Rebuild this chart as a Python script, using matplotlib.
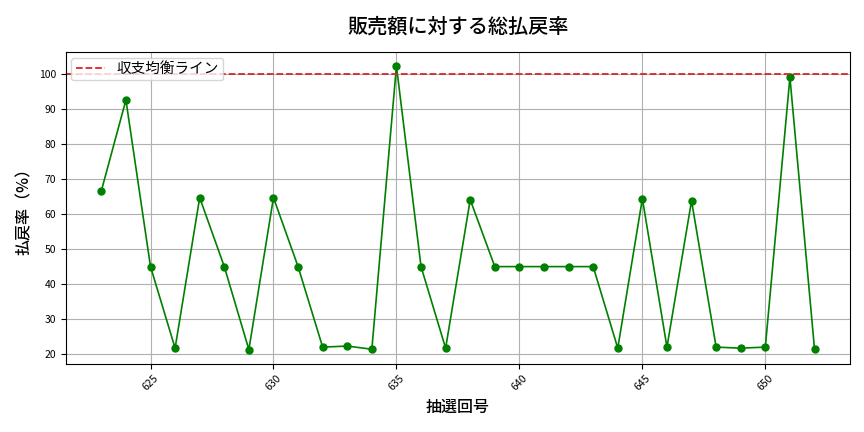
import matplotlib
matplotlib.use("Agg")
import matplotlib.pyplot as plt

plt.rcParams['font.family'] = ['Noto Sans CJK JP', 'DejaVu Sans']

draws = list(range(623, 653))
payout_rate = [66.6, 92.6, 45.0, 21.7, 64.7, 45.0, 21.3, 64.7, 45.0, 22.0,
               22.3, 21.4, 102.3, 45.0, 21.7, 64.1, 45.0, 45.0, 45.0, 45.0,
               45.0, 21.7, 64.4, 22.0, 63.8, 22.0, 21.7, 22.0, 99.1, 21.4]
breakeven = 100

fig, ax = plt.subplots(figsize=(8.64, 4.32), dpi=100)
ax.plot(draws, payout_rate, marker='o', color='green', markersize=5, linewidth=1.2)
ax.axhline(breakeven, color='#d62728', linestyle='--', linewidth=1.3, label='収支均衡ライン')
ax.set_title('販売額に対する総払戻率', fontsize=14.5, pad=14, fontweight='medium')
ax.set_xlabel('抽選回号', fontsize=11.5, fontweight='medium')
ax.set_ylabel('払戻率（%）', fontsize=11.5, fontweight='medium')
ax.grid(True)
ax.tick_params(axis='both', labelsize=7.5)
plt.setp(ax.get_xticklabels(), rotation=45)
ax.legend(loc='upper left', fontsize=10.5, borderaxespad=0.4, handlelength=2.0,
          borderpad=0.3)
fig.tight_layout()
fig.subplots_adjust(left=0.076, right=0.984, top=0.88, bottom=0.158)
fig.savefig('out.png')
